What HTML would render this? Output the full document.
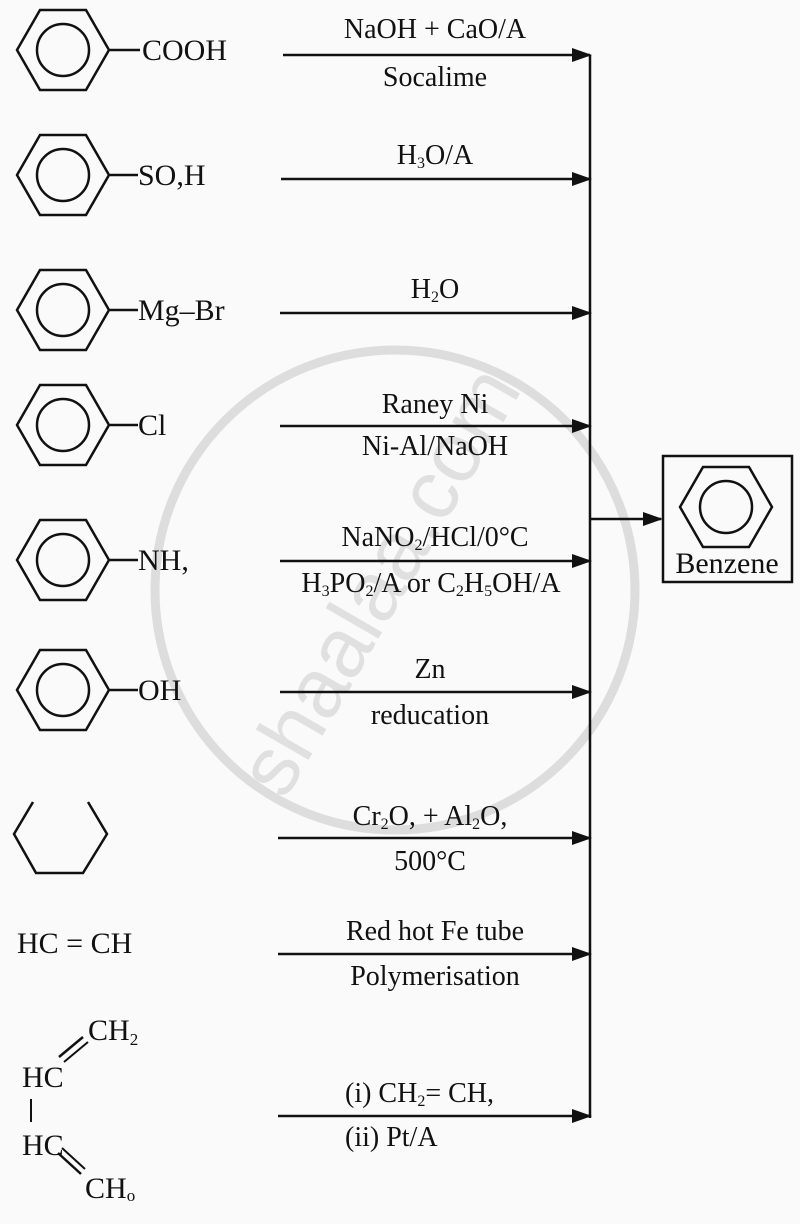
<!DOCTYPE html>
<html><head><meta charset="utf-8"><style>
html,body{margin:0;padding:0;background:#fafafa;}
svg{display:block}
text{font-family:"Liberation Serif",serif;fill:#111;font-size:28px}
.c{text-anchor:middle}
.l{font-size:30px}
</style></head><body>
<svg width="800" height="1224" viewBox="0 0 800 1224">
<defs>
<marker id="ah" markerWidth="20" markerHeight="14" refX="18" refY="7" orient="auto" markerUnits="userSpaceOnUse">
<path d="M0,0 L20,7 L0,14 z" fill="#111"/></marker>
<g id="bz"><polygon points="-46,0 -23,-40 23,-40 46,0 23,40 -23,40" fill="none" stroke="#111" stroke-width="2.5"/><circle r="26" fill="none" stroke="#111" stroke-width="2.5"/></g>
</defs>
<circle cx="395" cy="590" r="240" fill="none" stroke="#ddd" stroke-width="9"/>
<text x="395" y="600" class="c" transform="rotate(-60 395 590)" style="font-family:'Liberation Sans',sans-serif;font-size:84px;fill:#e0e0e0">shaalaa.com</text>

<g stroke="#111" stroke-width="2.5" fill="none">
<line x1="590" y1="55" x2="590" y2="1118"/>
<line x1="283" y1="55" x2="590" y2="55" marker-end="url(#ah)"/>
<line x1="281" y1="179" x2="590" y2="179" marker-end="url(#ah)"/>
<line x1="280" y1="313" x2="590" y2="313" marker-end="url(#ah)"/>
<line x1="280" y1="426" x2="590" y2="426" marker-end="url(#ah)"/>
<line x1="280" y1="561" x2="590" y2="561" marker-end="url(#ah)"/>
<line x1="280" y1="692" x2="590" y2="692" marker-end="url(#ah)"/>
<line x1="278" y1="838" x2="590" y2="838" marker-end="url(#ah)"/>
<line x1="278" y1="954" x2="590" y2="954" marker-end="url(#ah)"/>
<line x1="278" y1="1116" x2="590" y2="1116" marker-end="url(#ah)"/>
<line x1="590" y1="519" x2="661" y2="519" marker-end="url(#ah)"/>
<rect x="663" y="456" width="129" height="126"/>
<line x1="110" y1="50" x2="140" y2="50"/>
<line x1="110" y1="175" x2="138" y2="175"/>
<line x1="110" y1="310" x2="138" y2="310"/>
<line x1="110" y1="425" x2="138" y2="425"/>
<line x1="110" y1="560" x2="138" y2="560"/>
<line x1="110" y1="690" x2="138" y2="690"/>
<polyline points="33,802 14,834 36,873 83,873 107,834 88,802"/>
<line x1="59" y1="1057" x2="83" y2="1037"/><line x1="64" y1="1062" x2="88" y2="1042" stroke-width="2"/>
<line x1="31" y1="1099" x2="31" y2="1122" stroke-width="2"/>
<line x1="58" y1="1153" x2="81" y2="1174"/><line x1="62" y1="1148" x2="85" y2="1169" stroke-width="2"/>
</g>
<use href="#bz" x="63" y="50"/>
<use href="#bz" x="63" y="175"/>
<use href="#bz" x="63" y="310"/>
<use href="#bz" x="63" y="425"/>
<use href="#bz" x="63" y="560"/>
<use href="#bz" x="63" y="690"/>
<use href="#bz" x="726" y="507"/>

<text class="l" x="142" y="60">COOH</text>
<text class="l" x="138" y="185">SO,H</text>
<text class="l" x="138" y="320">Mg–Br</text>
<text class="l" x="138" y="435">Cl</text>
<text class="l" x="138" y="570">NH,</text>
<text class="l" x="138" y="700">OH</text>
<text class="l" x="17" y="953">HC = CH</text>
<text class="l" x="88" y="1040">CH<tspan font-size="17" dy="5">2</tspan></text>
<text class="l" x="22" y="1087">HC</text>
<text class="l" x="22" y="1155">HC</text>
<text class="l" x="85" y="1198">CH<tspan font-size="17" dy="3">o</tspan></text>
<text class="l c" x="727" y="573">Benzene</text>

<text x="435" y="38" class="c">NaOH + CaO/A</text>
<text x="435" y="86" class="c">Socalime</text>
<text x="435" y="164" class="c">H<tspan font-size="16" dy="4">3</tspan><tspan dy="-4">O/A</tspan></text>
<text x="435" y="298" class="c">H<tspan font-size="16" dy="4">2</tspan><tspan dy="-4">O</tspan></text>
<text x="435" y="413" class="c">Raney Ni</text>
<text x="435" y="455" class="c">Ni-Al/NaOH</text>
<text x="435" y="546" class="c">NaNO<tspan font-size="16" dy="4">2</tspan><tspan dy="-4">/HCl/0°C</tspan></text>
<text x="431" y="592" class="c">H<tspan font-size="16" dy="4">3</tspan><tspan dy="-4">PO</tspan><tspan font-size="16" dy="4">2</tspan><tspan dy="-4">/A or C</tspan><tspan font-size="16" dy="4">2</tspan><tspan dy="-4">H</tspan><tspan font-size="16" dy="4">5</tspan><tspan dy="-4">OH/A</tspan></text>
<text x="430" y="678" class="c">Zn</text>
<text x="430" y="724" class="c">reducation</text>
<text x="430" y="825" class="c">Cr<tspan font-size="16" dy="4">2</tspan><tspan dy="-4">O, + Al</tspan><tspan font-size="16" dy="4">2</tspan><tspan dy="-4">O,</tspan></text>
<text x="430" y="870" class="c">500°C</text>
<text x="435" y="940" class="c">Red hot Fe tube</text>
<text x="435" y="985" class="c">Polymerisation</text>
<text x="345" y="1102">(i) CH<tspan font-size="16" dy="4">2</tspan><tspan dy="-4">= CH,</tspan></text>
<text x="345" y="1146">(ii) Pt/A</text>
</svg>
</body></html>
